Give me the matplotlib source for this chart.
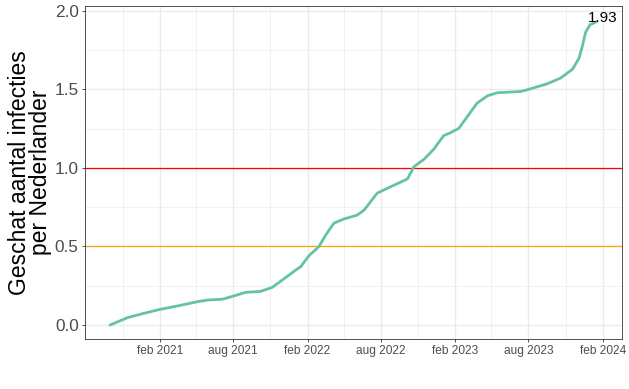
import numpy as np
import pandas as pd
import matplotlib
matplotlib.use("Agg")
import matplotlib.pyplot as plt
from matplotlib.ticker import MultipleLocator, FormatStrFormatter

plt.rcParams['font.family'] = ['Liberation Sans', 'DejaVu Sans']

# cumulative estimated infections per Dutch resident
dates = pd.to_datetime([
    "2020-10-01", "2020-11-13", "2020-12-23", "2021-02-02", "2021-03-16",
    "2021-05-04", "2021-05-30", "2021-07-05", "2021-08-03", "2021-09-01",
    "2021-10-08", "2021-11-06", "2021-12-01", "2022-01-03", "2022-01-15",
    "2022-02-04", "2022-03-01", "2022-03-18", "2022-04-07", "2022-05-02",
    "2022-06-04", "2022-06-21", "2022-07-23", "2022-08-17", "2022-09-18",
    "2022-10-06", "2022-10-22", "2022-11-16", "2022-12-10", "2023-01-03",
    "2023-01-21", "2023-02-10", "2023-03-03", "2023-03-27", "2023-04-22",
    "2023-05-16", "2023-07-12", "2023-07-29", "2023-09-16", "2023-10-19",
    "2023-11-18", "2023-12-04", "2023-12-12", "2023-12-20", "2023-12-31",
    "2024-01-16",
])
values = [
    0.0, 0.047, 0.074, 0.100, 0.121,
    0.148, 0.159, 0.164, 0.185, 0.208,
    0.214, 0.240, 0.287, 0.350, 0.371,
    0.440, 0.499, 0.573, 0.648, 0.675,
    0.700, 0.732, 0.839, 0.870, 0.908,
    0.930, 1.008, 1.055, 1.119, 1.204,
    1.225, 1.252, 1.327, 1.412, 1.459,
    1.478, 1.486, 1.497, 1.535, 1.571,
    1.628, 1.699, 1.773, 1.862, 1.911,
    1.930,
]
ref_lines = [0.5, 1.0]
ref_colors = ["#FFA500", "#FF0000"]
x_ticks = pd.to_datetime(["2021-02-01", "2021-08-01", "2022-02-01", "2022-08-01",
                          "2023-02-01", "2023-08-01", "2024-02-01"])
x_minor = pd.to_datetime(["2020-11-01", "2021-05-01", "2021-11-01", "2022-05-01",
                          "2022-11-01", "2023-05-01", "2023-11-01"])
x_labels = ["feb 2021", "aug 2021", "feb 2022", "aug 2022",
            "feb 2023", "aug 2023", "feb 2024"]

fig = plt.figure(figsize=(6.29, 3.89), dpi=100)
ax = fig.add_axes([0.1351, 0.1285, 0.8537, 0.856])

ax.set_axisbelow(True)
ax.grid(which='major', color='#EBEBEB', linewidth=1.0)
ax.grid(which='minor', color='#EBEBEB', linewidth=0.5)

for yv, c in zip(ref_lines, ref_colors):
    ax.axhline(yv, color=c, linewidth=0.9, zorder=2)

ax.plot(dates, values, color='#66C2A5', linewidth=2.0,
        solid_capstyle='round', solid_joinstyle='round', zorder=3)

ax.annotate(f"{values[-1]:.2f}", xy=(dates[-1], values[-1]),
            xytext=(4.5, 2.5), textcoords='offset points',
            ha='center', va='center', fontsize=11, color='black', zorder=4)

ax.set_xlim(pd.Timestamp("2020-07-31"), pd.Timestamp("2024-03-19"))
ax.set_ylim(-0.089, 2.03)
ax.set_xticks(x_ticks)
ax.set_xticklabels(x_labels)
ax.set_xticks(x_minor, minor=True)
ax.yaxis.set_major_locator(MultipleLocator(0.5))
ax.yaxis.set_minor_locator(MultipleLocator(0.25))
ax.yaxis.set_major_formatter(FormatStrFormatter('%.1f'))

ax.tick_params(which='major', length=2.5, width=0.6, color='#333333', pad=2)
ax.tick_params(which='minor', length=0)
ax.tick_params(axis='x', labelsize=8.6, labelcolor='#4D4D4D')
ax.tick_params(axis='y', labelsize=12.4, labelcolor='#4D4D4D')

for s in ax.spines.values():
    s.set_color('#333333')
    s.set_linewidth(0.6)

ax.set_ylabel("Geschat aantal infecties\nper Nederlander", fontsize=16.5,
              linespacing=0.9, labelpad=2)

fig.savefig("out.png", dpi=100)
